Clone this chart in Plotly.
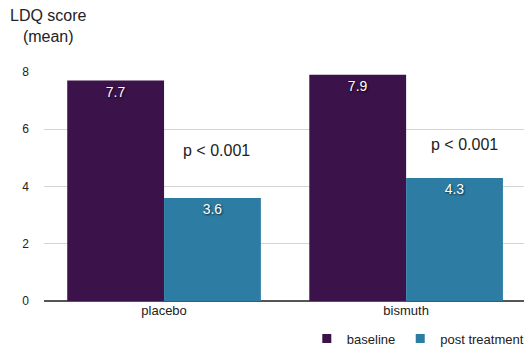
import plotly.graph_objects as go

categories = ["placebo", "bismuth"]
baseline = [7.7, 7.9]
post_treatment = [3.6, 4.3]
series_names = ["baseline", "post treatment"]
p_labels = ["p < 0.001", "p < 0.001"]
p_positions = [5.25, 5.45]
y_ticks = [0, 2, 4, 6, 8]

FONT = "Liberation Sans, Arial, Helvetica, sans-serif"
shadow = "1px 1px 2px rgba(0,0,0,0.7)"
colors = ["#3b1249", "#2d7ca3"]
p_shifts = [52, 58]

fig = go.Figure()
for name, vals, col in zip(series_names, [baseline, post_treatment], colors):
    fig.add_trace(go.Bar(
        x=categories, y=vals, name=name, showlegend=False,
        marker=dict(color=col, line=dict(width=0)),
        text=[f"{v:.1f}" for v in vals], textposition="inside",
        insidetextanchor="end",
        textfont=dict(color="white", size=14, family=FONT, shadow=shadow),
    ))
for name, col in zip(series_names, colors):
    fig.add_trace(go.Scatter(
        x=[None], y=[None], mode="markers", name=name,
        marker=dict(symbol="square", size=9, color=col),
    ))

for i, (lab, yv) in enumerate(zip(p_labels, p_positions)):
    fig.add_annotation(x=i, y=yv, text=lab, showarrow=False, xshift=p_shifts[i],
                       font=dict(size=16, color="#222", family=FONT))

fig.add_annotation(xref="paper", yref="paper", x=0.01, y=1.0, yshift=67,
                   xanchor="center", yanchor="top", text="LDQ score<br>(mean)",
                   showarrow=False, align="center",
                   font=dict(size=16, color="#222", family=FONT))

fig.update_layout(
    width=524, height=349,
    margin=dict(l=44, r=0, t=72, b=48, autoexpand=False),
    paper_bgcolor="white", plot_bgcolor="white",
    barmode="group", bargap=0.2, bargroupgap=0,
    font=dict(family=FONT, color="#222"),
    showlegend=True,
    legend=dict(orientation="h", x=1.01, xanchor="right", xref="paper",
                y=0.03, yanchor="middle", yref="container",
                font=dict(size=13, color="#222", family=FONT),
                itemwidth=30, tracegroupgap=0),
    xaxis=dict(showgrid=False, tickfont=dict(size=13, color="#222"),
               range=[-0.496, 1.487],
               ticks="", showline=False, automargin=False),
    yaxis=dict(range=[0, 8], tickvals=y_ticks, showgrid=True,
               gridcolor="#d4d4d4", gridwidth=1, zeroline=True,
               zerolinecolor="#555", zerolinewidth=1.5,
               tickfont=dict(size=12, color="#222"), ticks="",
               ticklabelstandoff=14, showline=False, automargin=False),
)

fig.write_html("out.html")
